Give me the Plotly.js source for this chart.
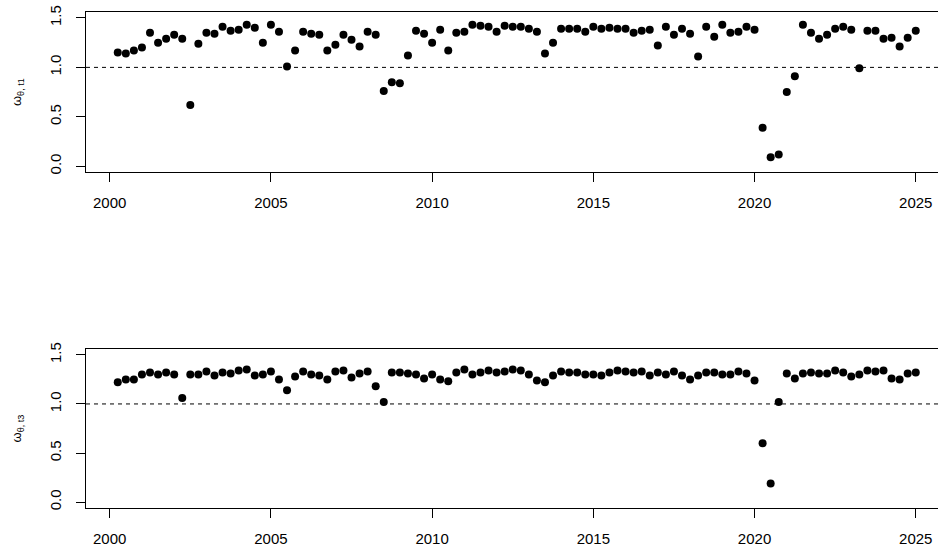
<!DOCTYPE html>
<html>
<head>
<meta charset="utf-8">
<script src="https://cdn.plot.ly/plotly-3.0.1.min.js"></script>
<style>html,body{margin:0;padding:0;background:#fff;}#chart{width:938px;height:550px;}</style>
</head>
<body>
<div id="chart"></div>
<script>
// Quarterly time index (decimal years)
const startYear = 2000.25;
const nQuarters = 100;
const quarters = Array.from({length: nQuarters}, (_, i) => startYear + i * 0.25);

// omega_{theta, t1}
const omegaT1 = [
  1.15, 1.14, 1.17, 1.20, 1.35, 1.25, 1.29, 1.33, 1.29, 0.62,
  1.24, 1.35, 1.34, 1.41, 1.37, 1.38, 1.43, 1.40, 1.25, 1.43,
  1.36, 1.01, 1.17, 1.36, 1.34, 1.33, 1.17, 1.23, 1.33, 1.28,
  1.21, 1.36, 1.33, 0.76, 0.85, 0.84, 1.12, 1.37, 1.34, 1.25,
  1.38, 1.17, 1.35, 1.36, 1.43, 1.42, 1.41, 1.36, 1.42, 1.41,
  1.41, 1.39, 1.36, 1.14, 1.25, 1.39, 1.39, 1.39, 1.36, 1.41,
  1.39, 1.40, 1.39, 1.39, 1.35, 1.37, 1.38, 1.22, 1.41, 1.33,
  1.39, 1.34, 1.11, 1.41, 1.31, 1.43, 1.35, 1.36, 1.41, 1.38,
  0.39, 0.09, 0.12, 0.75, 0.91, 1.43, 1.35, 1.29, 1.33, 1.39,
  1.41, 1.38, 0.99, 1.37, 1.37, 1.29, 1.30, 1.21, 1.30, 1.37
];

// omega_{theta, t3}
const omegaT3 = [
  1.22, 1.25, 1.25, 1.30, 1.32, 1.30, 1.32, 1.30, 1.06, 1.30,
  1.30, 1.33, 1.29, 1.32, 1.31, 1.34, 1.35, 1.29, 1.30, 1.33,
  1.25, 1.14, 1.28, 1.33, 1.30, 1.29, 1.25, 1.33, 1.34, 1.27,
  1.31, 1.33, 1.18, 1.02, 1.32, 1.32, 1.31, 1.30, 1.26, 1.30,
  1.25, 1.23, 1.32, 1.35, 1.30, 1.32, 1.34, 1.32, 1.33, 1.35,
  1.34, 1.30, 1.24, 1.22, 1.29, 1.33, 1.32, 1.32, 1.30, 1.30,
  1.29, 1.32, 1.34, 1.33, 1.32, 1.33, 1.29, 1.32, 1.30, 1.33,
  1.29, 1.25, 1.29, 1.32, 1.32, 1.30, 1.30, 1.33, 1.31, 1.24,
  0.60, 0.19, 1.02, 1.31, 1.26, 1.31, 1.32, 1.31, 1.31, 1.34,
  1.32, 1.28, 1.30, 1.34, 1.33, 1.34, 1.26, 1.25, 1.31, 1.32
];

const xTickVals = [2000, 2005, 2010, 2015, 2020, 2025];
const yTickVals = [0, 0.5, 1, 1.5];
const yTickText = ['0.0', '0.5', '1.0', '1.5'];
const refLevel = 1;
const yTitleT1 = 'ω<sub>θ, t1</sub>';
const yTitleT3 = 'ω<sub>θ, t3</sub>';

const font = {family: 'Liberation Sans, Arial, sans-serif', size: 15, color: '#000'};
const marker = {color: '#000', size: 8};

const traces = [
  {x: quarters, y: omegaT1, type: 'scatter', mode: 'markers', marker: marker, xaxis: 'x', yaxis: 'y', hoverinfo: 'x+y'},
  {x: quarters, y: omegaT3, type: 'scatter', mode: 'markers', marker: marker, xaxis: 'x2', yaxis: 'y2', hoverinfo: 'x+y'}
];

function xAxis(anchor) {
  return {
    anchor: anchor,
    range: [1999.265, 2025.69],
    tickmode: 'array', tickvals: xTickVals, ticktext: xTickVals.map(String),
    ticks: 'outside', ticklen: 9, tickwidth: 1, tickcolor: '#000',
    showline: true, mirror: true, linecolor: '#000', linewidth: 1,
    showgrid: false, zeroline: false,
    tickfont: font, ticklabelstandoff: 8
  };
}
function yAxis(anchor, domain, title) {
  return {
    anchor: anchor, domain: domain,
    range: [-0.06, 1.56],
    tickmode: 'array', tickvals: yTickVals, ticktext: yTickText,
    tickangle: -90,
    ticks: 'outside', ticklen: 9, tickwidth: 1, tickcolor: '#000',
    showline: true, mirror: false, linecolor: '#000', linewidth: 1,
    showgrid: false, zeroline: false,
    tickfont: font, ticklabelstandoff: 9,
    title: {text: title, font: {family: 'Liberation Sans, Arial, sans-serif', size: 13, color: '#000'}, standoff: 22}
  };
}

const layout = {
  width: 938, height: 550,
  margin: {l: 86, r: 0, t: 12, b: 42},
  paper_bgcolor: '#fff', plot_bgcolor: '#fff',
  showlegend: false,
  xaxis: Object.assign(xAxis('y'), {domain: [0, 1]}),
  yaxis: yAxis('x', [0.677, 1], yTitleT1),
  xaxis2: Object.assign(xAxis('y2'), {domain: [0, 1]}),
  yaxis2: yAxis('x2', [0, 0.3206], yTitleT3),
  shapes: [
    {type: 'line', xref: 'x domain', yref: 'y', x0: 0, x1: 1, y0: refLevel, y1: refLevel, line: {color: '#000', width: 1, dash: '4px,4px'}},
    {type: 'line', xref: 'x2 domain', yref: 'y2', x0: 0, x1: 1, y0: refLevel, y1: refLevel, line: {color: '#000', width: 1, dash: '4px,4px'}}
  ]
};

Plotly.newPlot('chart', traces, layout, {displayModeBar: false, staticPlot: true});
</script>
</body>
</html>
